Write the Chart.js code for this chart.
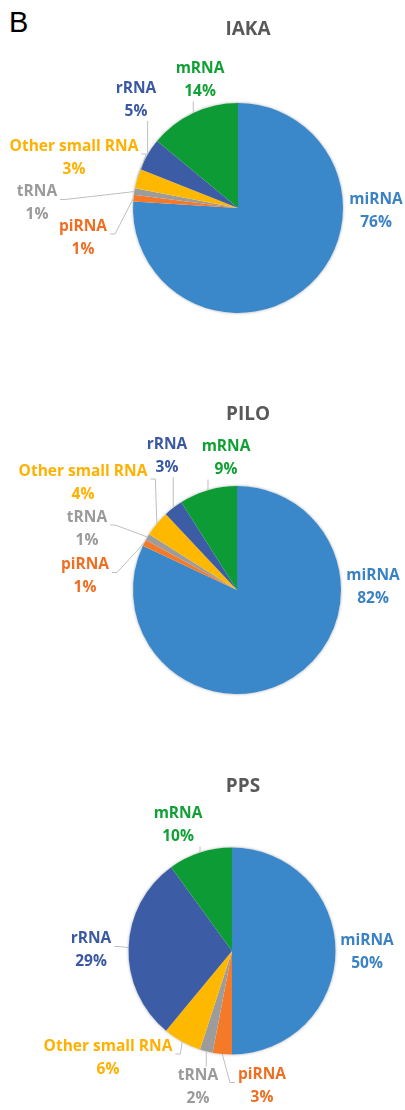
<!DOCTYPE html>
<html>
<head>
<meta charset="utf-8">
<script src="https://cdn.jsdelivr.net/npm/chart.js@4/dist/chart.umd.min.js"></script>
<style>
  body { margin: 0; background: #fff; width: 405px; height: 1110px; position: relative; overflow: hidden; }
  .panel { position: absolute; left: 0; width: 405px; height: 370px; }
  .ttl { position: absolute; transform: translate(-50%, -50%); font: bold 19px "Open Sans", sans-serif; color: #595959; white-space: nowrap; }
  #letter { position: absolute; left: 9px; top: 8px; font: 29px/29px "Liberation Sans", Arial, sans-serif; color: #000; }
</style>
</head>
<body>
<div id="letter">B</div>
<div class="panel" style="top:0"><canvas id="c0" width="405" height="370"></canvas></div>
<div class="panel" style="top:370px"><canvas id="c1" width="405" height="370"></canvas></div>
<div class="panel" style="top:740px"><canvas id="c2" width="405" height="370"></canvas></div>

<script>
// categories, clockwise from 12 o'clock
const categories = ['miRNA', 'piRNA', 'tRNA', 'Other small RNA', 'rRNA', 'mRNA'];
const titles = ['IAKA', 'PILO', 'PPS'];
const iakaValues = [76, 1, 1, 3, 5, 14];
const piloValues = [82, 1, 1, 4, 3, 9];
const ppsValues = [50, 3, 2, 6, 29, 10];

const sliceColors = ['#3A87C9', '#F47A2A', '#9C9C9C', '#FFB800', '#3C5DA6', '#0D9B35'];
const textColors = ['#3A82C4', '#F06E22', '#9A9A9A', '#FFB000', '#3B58A2', '#10A035'];

// layout per panel: pie padding, title spot (page coords), label offsets from pie centre
const layouts = [
    {
        pad: { left: 133, right: 62, top: 103, bottom: 57 },
        title: [248, 28],
        spots: [[138, 3, null], [-155, 30, 'r'], [-201, -4.5, 'r'], [-164, -50, 'r'], [-102, -108, 'b'], [-38, -127.5, 'b']]
    },
    {
        pad: { left: 133, right: 64, top: 116, bottom: 46 },
        title: [248, 413],
        spots: [[136, -3, null], [-152, -13.5, 'r'], [-150, -61, 'r'], [-154, -107, 'r'], [-70, -134, 'b'], [-11, -131.5, 'b']]
    },
    {
        pad: { left: 128.5, right: 69.5, top: 107.5, bottom: 55.5 },
        title: [243, 785],
        spots: [[135, 1.5, null], [30, 135.5, 'l'], [-34, 136.5, 't'], [-124, 107, 'r'], [-141, -0.5, 'r'], [-54, -125.5, 'b']]
    }
];

const labelFont = 'bold 15.5px "Open Sans", sans-serif';
const lineGap = 23;

// Etiquetas externas estilo Excel con líneas guía
const outerLabels = {
    id: 'outerLabels',
    beforeDatasetsDraw(chart) {
        const arc = chart.getDatasetMeta(0).data[0];
        if (!arc) return;
        const p = arc.getProps(['x', 'y', 'outerRadius']);
        const ctx = chart.ctx;
        ctx.save();
        ctx.shadowColor = 'rgba(0,0,0,0.35)';
        ctx.shadowBlur = 3;
        ctx.fillStyle = '#ffffff';
        ctx.beginPath();
        ctx.arc(p.x, p.y, p.outerRadius, 0, Math.PI * 2);
        ctx.fill();
        ctx.restore();
    },
    afterDatasetsDraw(chart, args, opts) {
        const ctx = chart.ctx;
        const meta = chart.getDatasetMeta(0);
        const values = chart.data.datasets[0].data;
        ctx.save();
        ctx.font = labelFont;
        ctx.textAlign = 'center';
        ctx.textBaseline = 'middle';
        meta.data.forEach((arc, i) => {
            const p = arc.getProps(['x', 'y', 'startAngle', 'endAngle', 'outerRadius']);
            const mid = (p.startAngle + p.endAngle) / 2;
            const ex = p.x + Math.cos(mid) * p.outerRadius;
            const ey = p.y + Math.sin(mid) * p.outerRadius;
            const [dx, dy, side] = opts.spots[i];
            const cx = p.x + dx, cy = p.y + dy;
            const lines = [chart.data.labels[i], values[i] + '%'];
            const w = Math.max(...lines.map(t => ctx.measureText(t).width));

            if (side) {
                ctx.strokeStyle = '#BFBFBF';
                ctx.lineWidth = 1;
                ctx.beginPath();
                if (side === 'r' || side === 'l') {
                    const s = side === 'r' ? 1 : -1;
                    const sx = cx + s * (w / 2 + 3), sy = cy - 4;
                    ctx.moveTo(sx, sy);
                    ctx.lineTo(sx + s * 5, sy);
                    ctx.lineTo(ex, ey);
                } else {
                    const sx = Math.min(Math.max(ex, cx - w / 2), cx + w / 2);
                    const sy = side === 'b' ? cy + 21 : cy - 21;
                    ctx.moveTo(sx, sy);
                    ctx.lineTo(ex, ey);
                }
                ctx.stroke();
            }

            ctx.fillStyle = textColors[i];
            ctx.fillText(lines[0], cx, cy - lineGap / 2);
            ctx.fillText(lines[1], cx, cy + lineGap / 2);
        });
        ctx.restore();
    }
};

const allValues = [iakaValues, piloValues, ppsValues];

allValues.forEach((vals, k) => {
    const lay = layouts[k];
    const t = document.createElement('div');
    t.className = 'ttl';
    t.textContent = titles[k];
    t.style.left = lay.title[0] + 'px';
    t.style.top = lay.title[1] + 'px';
    document.body.appendChild(t);

    new Chart(document.getElementById('c' + k), {
        type: 'pie',
        data: {
            labels: categories,
            datasets: [{
                data: vals,
                backgroundColor: sliceColors,
                borderWidth: 0
            }]
        },
        options: {
            responsive: false,
            animation: false,
            devicePixelRatio: 1,
            layout: { padding: lay.pad },
            plugins: {
                legend: { display: false },
                tooltip: { enabled: false },
                outerLabels: { spots: lay.spots }
            }
        },
        plugins: [outerLabels]
    });
});
</script>
</body>
</html>
